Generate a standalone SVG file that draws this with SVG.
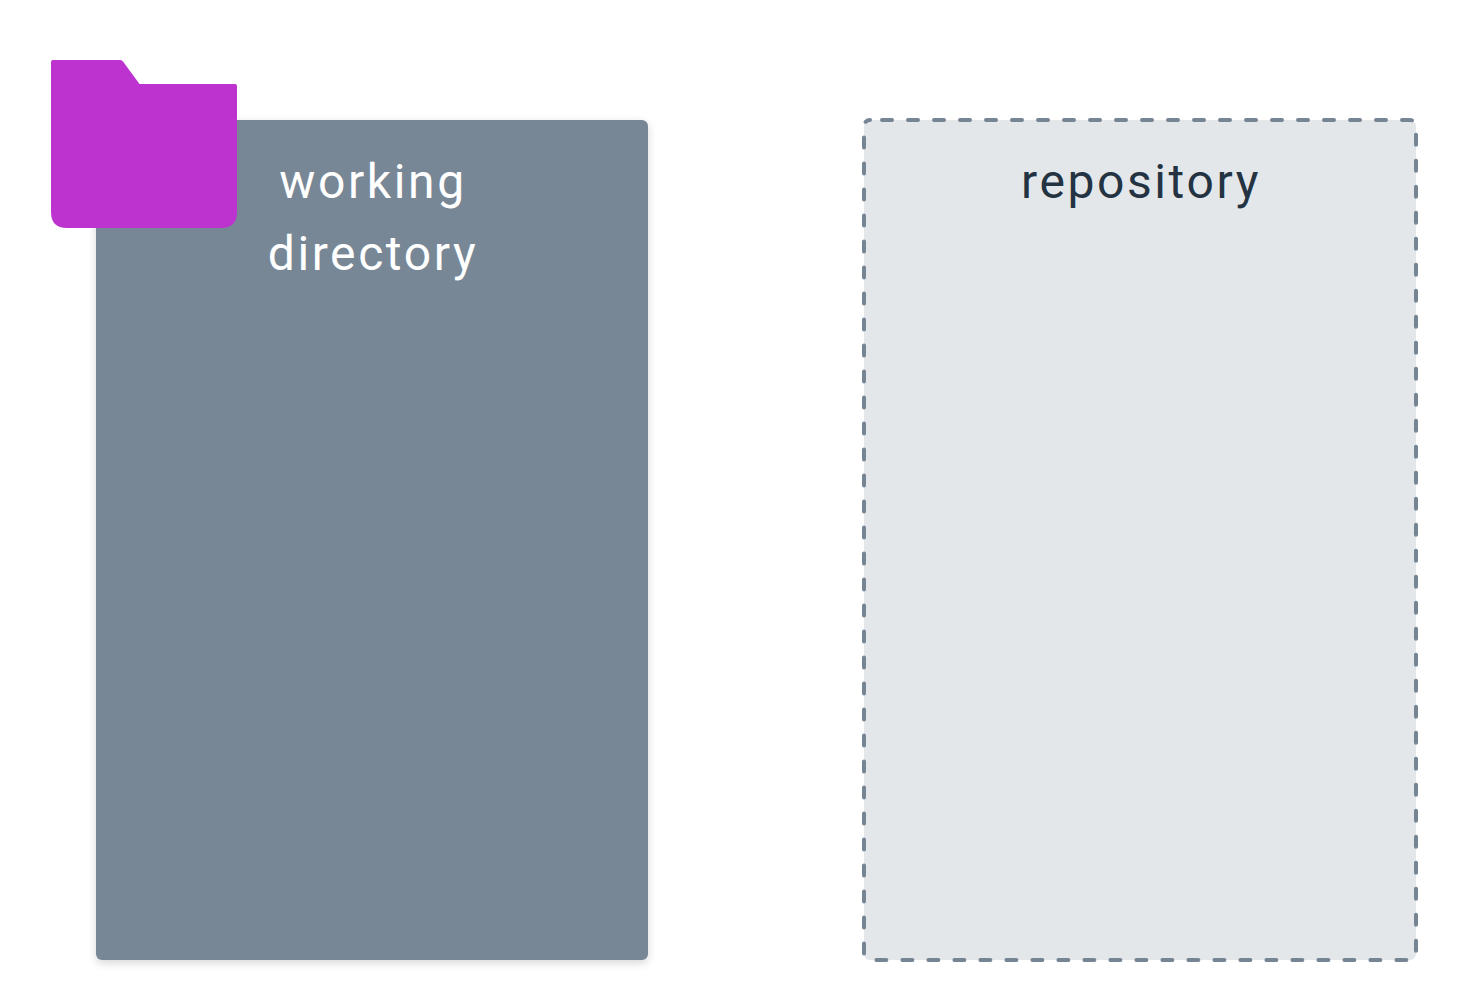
<svg xmlns="http://www.w3.org/2000/svg" width="1464" height="1008" viewBox="0 0 1464 1008">
<style>
.label{font-family:"Roboto","Liberation Sans",sans-serif;font-size:48px;text-anchor:middle;letter-spacing:2.6px}
</style>
<defs>
<filter id="shadow" x="-5%" y="-5%" width="110%" height="110%"><feDropShadow dx="0" dy="3" stdDeviation="4" flood-color="#000" flood-opacity="0.16"/></filter>
</defs>
<rect width="1464" height="1008" fill="#fff"/>
<g id="working-directory">
<rect x="96" y="120" width="552" height="840" rx="6" fill="#788796" filter="url(#shadow)"/>
<text class="label" x="373" y="198" fill="#fff">working</text>
<text class="label" x="373" y="270" fill="#fff">directory</text>
</g>
<g id="repository">
<rect x="864" y="120" width="552" height="840" rx="6" fill="#e4e7ea" stroke="#768594" stroke-width="4" stroke-dasharray="10 16" stroke-dashoffset="-12" stroke-linecap="round"/>
<text class="label" x="1141" y="198" fill="#243342">repository</text>
</g>
<g id="folder">
<path d="M53 60H120.500Q122 60 123 61.500L139.500 84H235Q237 84 237 86V212Q237 228 221 228H67Q51 228 51 212V62Q51 60 53 60Z" fill="#bd33d0"/>
</g>
<g id="connectors"/>
</svg>
